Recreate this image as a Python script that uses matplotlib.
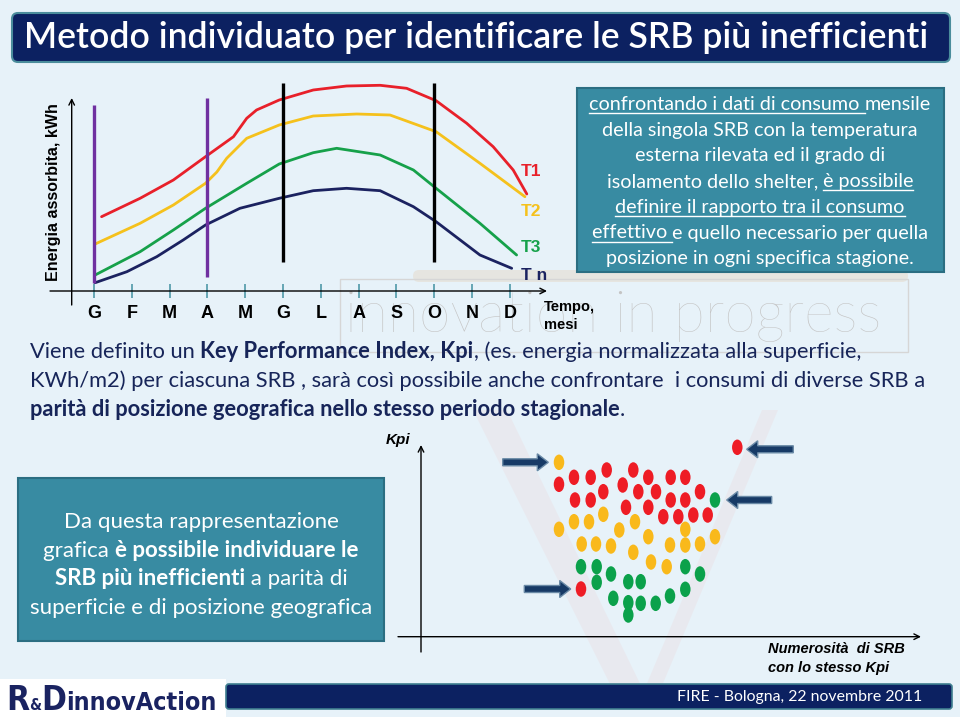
import matplotlib
matplotlib.use('Agg')
import matplotlib.pyplot as plt
from matplotlib.patches import FancyBboxPatch, Rectangle, Ellipse, FancyArrow, Polygon

W, H = 960, 717
BG = '#e7f2f9'
NAVY = '#0c2161'
BOX = '#388ba2'
TXT = '#172559'

# ---- time axis ----
months = ['G', 'F', 'M', 'A', 'M', 'G', 'L', 'A', 'S', 'O', 'N', 'D']
month_pos = list(range(12))

# ---- energy curves (month position, energy level) ----
t1_month = [0.20, 1.22, 2.10, 2.95, 3.69, 4.04, 4.30, 4.90, 5.80, 6.68, 7.57, 8.27, 9.05, 9.86, 10.56, 11.09, 11.45]
t1_energy = [74.3, 92.7, 111, 134.3, 154.3, 172.7, 181, 191, 201, 205, 205.7, 202.7, 190.3, 167.7, 144.3, 121, 97]
t2_month = [0.03, 1.22, 2.10, 2.95, 3.25, 3.51, 4.04, 4.90, 5.80, 6.95, 7.83, 9.05, 10.21, 11.40]
t2_energy = [47, 67.7, 86, 107.7, 119, 132.7, 152.7, 166, 175, 177, 176, 159.3, 127.7, 94.3]
t3_month = [0.03, 1.22, 2.10, 2.95, 4.04, 4.90, 5.80, 6.42, 7.57, 8.45, 9.05, 10.21, 11.18]
t3_energy = [16, 39.3, 61, 82.7, 107.7, 127, 138.3, 142.7, 136, 121, 102.7, 67.7, 36]
tn_month = [0.03, 0.87, 1.66, 2.36, 2.95, 3.86, 4.90, 5.80, 6.68, 7.57, 8.45, 9.05, 10.21, 11.05]
tn_energy = [8.3, 19.3, 34.3, 51, 66, 82.7, 92.7, 100.3, 102.7, 100.3, 84.3, 69.3, 36, 22.7]
curve_labels = ['T1', 'T2', 'T3', 'T n']
curve_colors = ['#e8202a', '#f5c11c', '#16a14a', '#1b2260']

# season markers
purple_month = [0, 3]
purple_low = [7.7, 14.3]
purple_high = [186, 192.7]
black_month = [5, 9]
black_low = [29.3, 29.3]
black_high = [208.3, 208.3]

# ---- Kpi scatter (x = numerosita, k = Kpi) ----
red_x = [316.3, 138, 153, 169.7, 185.7, 201.7, 212.3, 217.3, 227.3, 235, 249.7, 264.3, 279,
         154, 169.7, 182.3, 205, 227.3, 242.3, 249.7, 257.3, 264.3, 272.3, 286.7, 160]
red_k = [189.4, 152.4, 159.4, 159.4, 166.7, 151.7, 166.7, 145, 159.4, 145, 159.4, 159.4, 145,
         136.7, 136.7, 145, 129.4, 129.4, 120, 136.7, 120, 136.7, 121.7, 121.7, 47.7]
yellow_x = [138, 138, 153, 168, 182.3, 198.3, 214, 227.3, 264.3, 249, 264.3, 279, 294,
            160.7, 175, 190, 212.3, 230, 245.7]
yellow_k = [174.4, 107.4, 115, 115, 122.4, 106.7, 115, 100, 107.4, 91.7, 91.7, 92.7, 100,
            92.7, 92.7, 90.7, 84.4, 74.7, 70]
green_x = [294, 160, 175.7, 175.7, 190, 207.3, 219.7, 264.3, 279, 192.3, 207.3, 207.3,
           219.7, 234.7, 249, 264.3]
green_k = [136.7, 70, 70, 54.4, 62.7, 55, 55, 70, 62.7, 38.4, 34, 21.7, 33.4, 33.4, 40.7, 47.4]
arrow_from_x = [81.7, 103.3, 372.3, 350.7]
arrow_to_x = [127.3, 149.7, 325.7, 305.7]
arrow_k = [174.4, 47.7, 187.4, 136.7]

fig = plt.figure(figsize=(9.6, 7.17), dpi=100, facecolor=BG)
bg = fig.add_axes([0, 0, 1, 1])
bg.set_xlim(0, W)
bg.set_ylim(H, 0)
bg.axis('off')
renderer = fig.canvas.get_renderer()


def px_rect(l, t, r, b):
    return [l / W, (H - b) / H, (r - l) / W, (b - t) / H]


def piece_width(s, **kw):
    a = bg.text(0, 0, s + '|', **kw)
    b = bg.text(0, 0, '|', **kw)
    w = a.get_window_extent(renderer).width - b.get_window_extent(renderer).width
    a.remove()
    b.remove()
    return w


def fit(s, target, **kw):
    return 20 * target / piece_width(s, fontsize=20, **kw)


def rich_line(x, y, parts, ha='left', color='k', ul_off=3, zorder=5, **common):
    widths = [piece_width(s, **{**common, **fp}) for s, fp, ul in parts]
    total = sum(widths)
    x0 = x - total / 2 if ha == 'center' else (x - total if ha == 'right' else x)
    for (s, fp, ul), w in zip(parts, widths):
        bg.text(x0, y, s, color=color, va='baseline', ha='left', zorder=zorder, **{**common, **fp})
        if ul:
            bg.plot([x0, x0 + w], [y + ul_off] * 2, color=color, lw=1, zorder=zorder)
        x0 += w


N = {'fontweight': 'normal'}
B = {'fontweight': 'bold'}

# ---- watermark ----
bg.add_patch(FancyBboxPatch((413, 270), 495, 12, boxstyle='round,pad=0,rounding_size=6',
                            fc='#e6e0d6', ec='none', alpha=0.7, zorder=1))
bg.add_patch(Rectangle((340, 279), 568, 73, fc='none', ec='#d6d6d6', lw=1, zorder=1))
wm_size = fit('innovation in progress', 535, family='Lato', fontweight='light')
bg.text(345, 316, 'innovation in progress', family='Lato', fontweight='light', fontsize=wm_size,
        color='#c4c4c4', va='center', ha='left', zorder=1)
bg.add_patch(Polygon([(473, 410), (507, 410), (648, 700), (618, 700)], fc='#f0c4c4', ec='none', alpha=0.18, zorder=1))
bg.add_patch(Polygon([(762, 410), (778, 410), (656, 700), (640, 700)], fc='#f0c4c4', ec='none', alpha=0.18, zorder=1))

# ---- title bar ----
bg.add_patch(FancyBboxPatch((12, 13), 938, 49, boxstyle='round,pad=0,rounding_size=6',
                            fc=NAVY, ec='#4b8d9c', lw=1.5, zorder=2))
title = 'Metodo individuato per identificare le SRB più inefficienti'
ts = fit(title, 905, family='Lato', fontweight='semibold')
bg.text(476, 38, title, family='Lato', fontweight='semibold', fontsize=ts, color='white',
        ha='center', va='center', zorder=3)

# ---- energy chart ----
x_l, x_r, y_t, y_b = 45, 560, 75, 340
px0, pstep, py0 = 94, 37.8, 291
ax1 = fig.add_axes(px_rect(x_l, y_t, x_r, y_b))
ax1.set_xlim((x_l - px0) / pstep, (x_r - px0) / pstep)
ax1.set_ylim(py0 - y_b, py0 - y_t)
ax1.axis('off')
ax1.patch.set_alpha(0)

for xs, ys, c in zip([t1_month, t2_month, t3_month, tn_month],
                     [t1_energy, t2_energy, t3_energy, tn_energy], curve_colors):
    ax1.plot(xs, ys, color=c, lw=2.0, solid_joinstyle='round', solid_capstyle='round', zorder=3)
ax1.vlines(purple_month, purple_low, purple_high, color='#7030a0', lw=2.4, zorder=4)
ax1.vlines(black_month, black_low, black_high, color='black', lw=2.4, zorder=4)
ax1.vlines(month_pos, -7, 7, color='#5b9fae', lw=1.3, zorder=2)
for m, lab in zip(month_pos, months):
    ax1.text(m, -22, lab, ha='center', va='center', family='Liberation Sans', fontweight='bold', fontsize=13)
ax1.annotate('', xy=((547 - px0) / pstep, 0), xytext=((50 - px0) / pstep, 0),
             arrowprops=dict(arrowstyle='->', lw=1.0, color='black', shrinkA=0, shrinkB=0))
ax1.annotate('', xy=((71.7 - px0) / pstep, py0 - 98), xytext=((71.7 - px0) / pstep, py0 - 305),
             arrowprops=dict(arrowstyle='->', lw=1.0, color='black', shrinkA=0, shrinkB=0))

bg.text(54, 192, 'Energia assorbita, kWh', rotation=90, ha='center', va='center',
        family='Liberation Sans', fontweight='bold', fontsize=11.5)
for lab, c, yy in zip(curve_labels, curve_colors, [172, 211, 248, 276]):
    bg.text(521, yy, lab, color=c, ha='left', va='center', family='Liberation Sans',
            fontweight='bold', fontsize=12.5)
bg.text(544, 307, 'Tempo,', ha='left', va='center', family='Liberation Sans', fontweight='bold', fontsize=10.5)
bg.text(544, 325, 'mesi', ha='left', va='center', family='Liberation Sans', fontweight='bold', fontsize=10.5)

# ---- upper right box ----
bg.add_patch(Rectangle((577, 88), 367, 184, fc=BOX, ec='#2b6e82', lw=1.5, zorder=2))
ub = fit('confrontando i dati di consumo mensile', 342, family='Lato')
upper_lines = [
    [('confrontando i dati di consumo ', N, True), ('mensile', N, False)],
    [('della singola SRB con la temperatura', N, False)],
    [('esterna rilevata ed il grado di', N, False)],
    [('isolamento dello shelter, ', N, False), ('è possibile', N, True)],
    [('definire il rapporto tra il consumo', N, True)],
    [('effettivo ', N, True), ('e quello necessario per quella', N, False)],
    [('posizione in ogni specifica stagione.', N, False)],
]
for i, parts in enumerate(upper_lines):
    rich_line(760, 110 + i * 25.7, parts, ha='center', color='white', family='Lato', fontsize=ub)

# ---- middle text ----
ms = fit('KWh/m2) per ciascuna SRB , sarà così possibile anche confrontare  i consumi di diverse SRB a', 900,
         family='Lato')
rich_line(30, 358, [('Viene definito un ', N, False), ('Key Performance Index, Kpi', B, False),
                    (', (es. energia normalizzata alla superficie,', N, False)],
          color=TXT, family='Lato', fontsize=ms)
rich_line(30, 387, [('KWh/m2) per ciascuna SRB , sarà così possibile anche confrontare  i consumi di diverse SRB a', N, False)],
          color=TXT, family='Lato', fontsize=ms)
rich_line(30, 416, [('parità di posizione geografica nello stesso periodo stagionale', B, False), ('.', N, False)],
          color=TXT, family='Lato', fontsize=ms)

# ---- lower left box ----
bg.add_patch(Rectangle((18, 478), 366, 163, fc=BOX, ec='#2b6e82', lw=1.5, zorder=2))
ls = fit('superficie e di posizione geografica', 342, family='Lato')
lower_lines = [
    [('Da questa rappresentazione', N, False)],
    [('grafica ', N, False), ('è possibile individuare le', B, False)],
    [('SRB più inefficienti', B, False), (' a parità di', N, False)],
    [('superficie e di posizione geografica', N, False)],
]
for i, parts in enumerate(lower_lines):
    rich_line(201, 528 + i * 28.7, parts, ha='center', color='white', family='Lato', fontsize=ls)

# ---- Kpi scatter ----
ox, oy = 421, 636.7
s_l, s_r, s_t, s_b = 395, 930, 430, 665
ax2 = fig.add_axes(px_rect(s_l, s_t, s_r, s_b))
ax2.set_xlim(s_l - ox, s_r - ox)
ax2.set_ylim(oy - s_b, oy - s_t)
ax2.axis('off')
ax2.patch.set_alpha(0)
for xs, ks, c in [(red_x, red_k, '#ee1c25'), (yellow_x, yellow_k, '#f9b91b'), (green_x, green_k, '#0ba14b')]:
    for x, k in zip(xs, ks):
        ax2.add_patch(Ellipse((x, k), 10.5, 15.5, fc=c, ec='none', zorder=3))
for x0, x1, k in zip(arrow_from_x, arrow_to_x, arrow_k):
    ax2.add_patch(FancyArrow(x0, k, x1 - x0, 0, width=7, head_width=17, head_length=11,
                             length_includes_head=True, fc='#173a66', ec='#6a8aa6', lw=1.0, zorder=4))
ax2.annotate('', xy=(0, oy - 445), xytext=(0, oy - 652),
             arrowprops=dict(arrowstyle='->', lw=1.0, color='black', shrinkA=0, shrinkB=0))
ax2.annotate('', xy=(921 - ox, 0), xytext=(398 - ox, 0),
             arrowprops=dict(arrowstyle='->', lw=1.0, color='black', shrinkA=0, shrinkB=0))
bg.text(386, 440, 'Kpi', ha='left', va='center', family='Liberation Sans', fontweight='bold',
        fontstyle='italic', fontsize=11)
bg.text(768, 649, 'Numerosità  di SRB', ha='left', va='center', family='Liberation Sans',
        fontweight='bold', fontstyle='italic', fontsize=10.5)
bg.text(768, 668, 'con lo stesso Kpi', ha='left', va='center', family='Liberation Sans',
        fontweight='bold', fontstyle='italic', fontsize=10.5)

# ---- footer ----
bg.add_patch(Rectangle((0, 679), 226, 38, fc='white', ec='none', zorder=2))
bg.add_patch(FancyBboxPatch((226, 684), 726, 25, boxstyle='round,pad=0,rounding_size=3',
                            fc=NAVY, ec='#3f7f90', lw=1.2, zorder=2))
bg.text(922, 697, 'FIRE - Bologna, 22 novembre 2011', ha='right', va='center', family='Lato',
        fontsize=fit('FIRE - Bologna, 22 novembre 2011', 245, family='Lato'), color='white', zorder=3)
logo = {'family': 'DejaVu Sans', 'fontstretch': 'condensed'}
rich_line(6, 710, [('R', {'fontsize': 24, 'fontweight': 'bold'}, False),
                   ('&', {'fontsize': 11, 'fontweight': 'bold'}, False),
                   ('D', {'fontsize': 24, 'fontweight': 'bold'}, False),
                   ('innovAction', {'fontsize': 18, 'fontweight': 'bold'}, False)],
          color='#1a2361', **logo)

fig.savefig('out.png', dpi=100, facecolor=BG)
